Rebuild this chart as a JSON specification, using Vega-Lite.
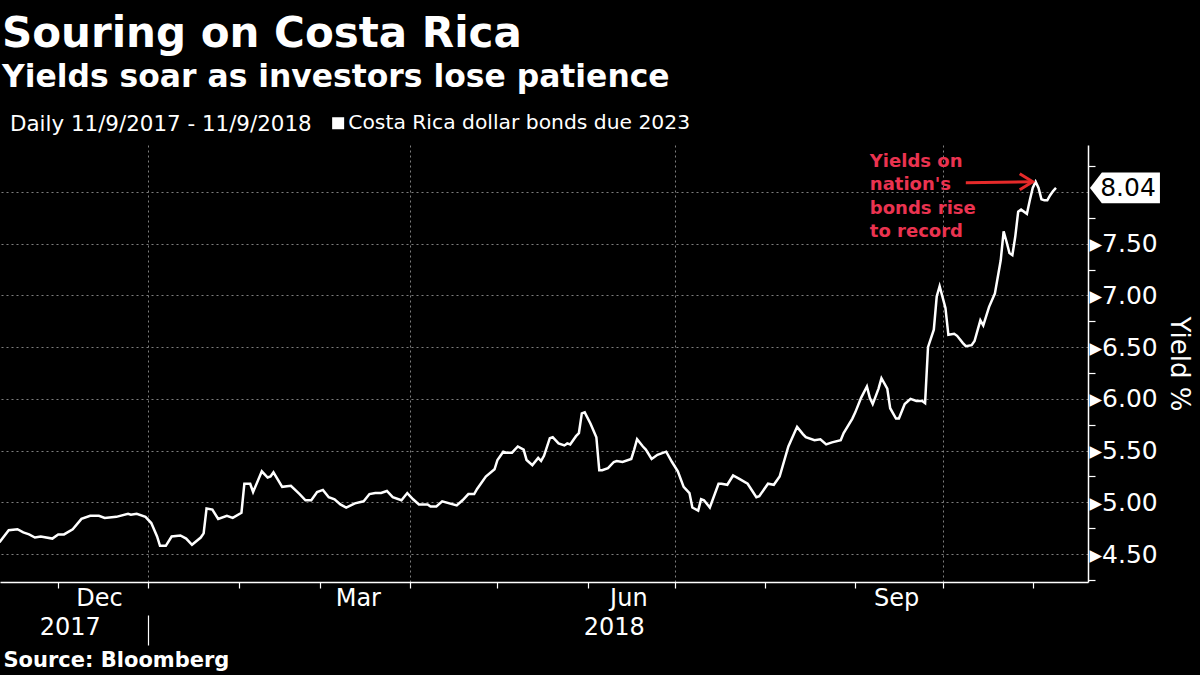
{
  "$schema": "https://vega.github.io/schema/vega-lite/v6.json",
  "width": 1088,
  "height": 437,
  "autosize": {"type": "none"},
  "padding": {"left": 0, "top": 145, "right": 112, "bottom": 93},
  "background": "#000000",
  "config": {"view": {"stroke": null}, "font": "DejaVu Sans"},
  "title": {
    "text": "Souring on Costa Rica",
    "subtitle": "Yields soar as investors lose patience",
    "anchor": "start",
    "frame": "group",
    "font": "DejaVu Sans",
    "fontSize": 42,
    "fontWeight": "bold",
    "color": "#ffffff",
    "subtitleFont": "DejaVu Sans",
    "subtitleFontSize": 31.4,
    "subtitleFontWeight": "bold",
    "subtitleColor": "#ffffff",
    "subtitlePadding": 6,
    "offset": 19,
    "dx": 2
  },
  "datasets": {
    "yields": [
      {"date": "2017-11-09", "yield": 4.61},
      {"date": "2017-11-11", "yield": 4.62},
      {"date": "2017-11-14", "yield": 4.73},
      {"date": "2017-11-17", "yield": 4.74},
      {"date": "2017-11-19", "yield": 4.71},
      {"date": "2017-11-21", "yield": 4.69},
      {"date": "2017-11-23", "yield": 4.66},
      {"date": "2017-11-25", "yield": 4.67},
      {"date": "2017-11-29", "yield": 4.65},
      {"date": "2017-12-01", "yield": 4.69},
      {"date": "2017-12-03", "yield": 4.69},
      {"date": "2017-12-06", "yield": 4.74},
      {"date": "2017-12-09", "yield": 4.84},
      {"date": "2017-12-12", "yield": 4.87},
      {"date": "2017-12-15", "yield": 4.87},
      {"date": "2017-12-17", "yield": 4.85},
      {"date": "2017-12-21", "yield": 4.86},
      {"date": "2017-12-25", "yield": 4.89},
      {"date": "2017-12-26", "yield": 4.88},
      {"date": "2017-12-28", "yield": 4.89},
      {"date": "2017-12-31", "yield": 4.86},
      {"date": "2018-01-02", "yield": 4.80},
      {"date": "2018-01-04", "yield": 4.67},
      {"date": "2018-01-05", "yield": 4.58},
      {"date": "2018-01-07", "yield": 4.58},
      {"date": "2018-01-09", "yield": 4.67},
      {"date": "2018-01-12", "yield": 4.68},
      {"date": "2018-01-14", "yield": 4.65},
      {"date": "2018-01-16", "yield": 4.59},
      {"date": "2018-01-19", "yield": 4.66},
      {"date": "2018-01-20", "yield": 4.70},
      {"date": "2018-01-21", "yield": 4.94},
      {"date": "2018-01-23", "yield": 4.93},
      {"date": "2018-01-25", "yield": 4.84},
      {"date": "2018-01-28", "yield": 4.87},
      {"date": "2018-01-30", "yield": 4.85},
      {"date": "2018-02-02", "yield": 4.90},
      {"date": "2018-02-03", "yield": 5.18},
      {"date": "2018-02-05", "yield": 5.18},
      {"date": "2018-02-06", "yield": 5.10},
      {"date": "2018-02-09", "yield": 5.30},
      {"date": "2018-02-11", "yield": 5.24},
      {"date": "2018-02-12", "yield": 5.25},
      {"date": "2018-02-13", "yield": 5.29},
      {"date": "2018-02-16", "yield": 5.15},
      {"date": "2018-02-19", "yield": 5.16},
      {"date": "2018-02-22", "yield": 5.08},
      {"date": "2018-02-24", "yield": 5.02},
      {"date": "2018-02-26", "yield": 5.02},
      {"date": "2018-02-28", "yield": 5.10},
      {"date": "2018-03-02", "yield": 5.12},
      {"date": "2018-03-04", "yield": 5.05},
      {"date": "2018-03-06", "yield": 5.03},
      {"date": "2018-03-08", "yield": 4.98},
      {"date": "2018-03-10", "yield": 4.95},
      {"date": "2018-03-13", "yield": 4.99},
      {"date": "2018-03-16", "yield": 5.01},
      {"date": "2018-03-18", "yield": 5.08},
      {"date": "2018-03-20", "yield": 5.09},
      {"date": "2018-03-22", "yield": 5.09},
      {"date": "2018-03-24", "yield": 5.11},
      {"date": "2018-03-26", "yield": 5.05},
      {"date": "2018-03-29", "yield": 5.02},
      {"date": "2018-03-31", "yield": 5.09},
      {"date": "2018-04-02", "yield": 5.03},
      {"date": "2018-04-04", "yield": 4.98},
      {"date": "2018-04-07", "yield": 4.98},
      {"date": "2018-04-08", "yield": 4.96},
      {"date": "2018-04-10", "yield": 4.96},
      {"date": "2018-04-12", "yield": 5.01},
      {"date": "2018-04-17", "yield": 4.97},
      {"date": "2018-04-19", "yield": 5.02},
      {"date": "2018-04-21", "yield": 5.08},
      {"date": "2018-04-23", "yield": 5.08},
      {"date": "2018-04-24", "yield": 5.13},
      {"date": "2018-04-27", "yield": 5.25},
      {"date": "2018-04-30", "yield": 5.32},
      {"date": "2018-05-01", "yield": 5.41},
      {"date": "2018-05-03", "yield": 5.49},
      {"date": "2018-05-04", "yield": 5.48},
      {"date": "2018-05-06", "yield": 5.48},
      {"date": "2018-05-08", "yield": 5.54},
      {"date": "2018-05-10", "yield": 5.51},
      {"date": "2018-05-11", "yield": 5.41},
      {"date": "2018-05-13", "yield": 5.36},
      {"date": "2018-05-15", "yield": 5.43},
      {"date": "2018-05-16", "yield": 5.40},
      {"date": "2018-05-17", "yield": 5.45},
      {"date": "2018-05-19", "yield": 5.62},
      {"date": "2018-05-20", "yield": 5.63},
      {"date": "2018-05-22", "yield": 5.57},
      {"date": "2018-05-24", "yield": 5.55},
      {"date": "2018-05-25", "yield": 5.57},
      {"date": "2018-05-26", "yield": 5.56},
      {"date": "2018-05-28", "yield": 5.64},
      {"date": "2018-05-29", "yield": 5.67},
      {"date": "2018-05-30", "yield": 5.86},
      {"date": "2018-05-31", "yield": 5.87},
      {"date": "2018-06-02", "yield": 5.76},
      {"date": "2018-06-04", "yield": 5.63},
      {"date": "2018-06-05", "yield": 5.31},
      {"date": "2018-06-06", "yield": 5.31},
      {"date": "2018-06-08", "yield": 5.33},
      {"date": "2018-06-10", "yield": 5.39},
      {"date": "2018-06-11", "yield": 5.40},
      {"date": "2018-06-13", "yield": 5.39},
      {"date": "2018-06-16", "yield": 5.42},
      {"date": "2018-06-17", "yield": 5.51},
      {"date": "2018-06-18", "yield": 5.61},
      {"date": "2018-06-20", "yield": 5.54},
      {"date": "2018-06-21", "yield": 5.51},
      {"date": "2018-06-23", "yield": 5.42},
      {"date": "2018-06-25", "yield": 5.46},
      {"date": "2018-06-28", "yield": 5.49},
      {"date": "2018-06-30", "yield": 5.39},
      {"date": "2018-07-02", "yield": 5.30},
      {"date": "2018-07-04", "yield": 5.15},
      {"date": "2018-07-06", "yield": 5.09},
      {"date": "2018-07-07", "yield": 4.95},
      {"date": "2018-07-09", "yield": 4.92},
      {"date": "2018-07-10", "yield": 5.03},
      {"date": "2018-07-11", "yield": 5.02},
      {"date": "2018-07-13", "yield": 4.95},
      {"date": "2018-07-16", "yield": 5.18},
      {"date": "2018-07-17", "yield": 5.18},
      {"date": "2018-07-19", "yield": 5.17},
      {"date": "2018-07-21", "yield": 5.26},
      {"date": "2018-07-23", "yield": 5.23},
      {"date": "2018-07-26", "yield": 5.18},
      {"date": "2018-07-29", "yield": 5.05},
      {"date": "2018-07-30", "yield": 5.06},
      {"date": "2018-08-02", "yield": 5.18},
      {"date": "2018-08-04", "yield": 5.17},
      {"date": "2018-08-06", "yield": 5.25},
      {"date": "2018-08-09", "yield": 5.54},
      {"date": "2018-08-12", "yield": 5.73},
      {"date": "2018-08-14", "yield": 5.66},
      {"date": "2018-08-15", "yield": 5.63},
      {"date": "2018-08-18", "yield": 5.60},
      {"date": "2018-08-20", "yield": 5.61},
      {"date": "2018-08-22", "yield": 5.56},
      {"date": "2018-08-24", "yield": 5.58},
      {"date": "2018-08-27", "yield": 5.60},
      {"date": "2018-08-28", "yield": 5.67},
      {"date": "2018-08-31", "yield": 5.81},
      {"date": "2018-09-01", "yield": 5.87},
      {"date": "2018-09-03", "yield": 6.01},
      {"date": "2018-09-05", "yield": 6.12},
      {"date": "2018-09-06", "yield": 6.01},
      {"date": "2018-09-07", "yield": 5.95},
      {"date": "2018-09-09", "yield": 6.10},
      {"date": "2018-09-10", "yield": 6.20},
      {"date": "2018-09-12", "yield": 6.10},
      {"date": "2018-09-13", "yield": 5.91},
      {"date": "2018-09-15", "yield": 5.81},
      {"date": "2018-09-16", "yield": 5.81},
      {"date": "2018-09-18", "yield": 5.95},
      {"date": "2018-09-20", "yield": 6.00},
      {"date": "2018-09-22", "yield": 5.98},
      {"date": "2018-09-24", "yield": 5.98},
      {"date": "2018-09-25", "yield": 5.96},
      {"date": "2018-09-26", "yield": 6.50},
      {"date": "2018-09-28", "yield": 6.67},
      {"date": "2018-09-29", "yield": 6.99},
      {"date": "2018-09-30", "yield": 7.09},
      {"date": "2018-10-02", "yield": 6.88},
      {"date": "2018-10-03", "yield": 6.62},
      {"date": "2018-10-05", "yield": 6.63},
      {"date": "2018-10-06", "yield": 6.61},
      {"date": "2018-10-08", "yield": 6.54},
      {"date": "2018-10-09", "yield": 6.51},
      {"date": "2018-10-11", "yield": 6.52},
      {"date": "2018-10-12", "yield": 6.56},
      {"date": "2018-10-14", "yield": 6.76},
      {"date": "2018-10-15", "yield": 6.71},
      {"date": "2018-10-17", "yield": 6.89},
      {"date": "2018-10-19", "yield": 7.02},
      {"date": "2018-10-21", "yield": 7.34},
      {"date": "2018-10-22", "yield": 7.62},
      {"date": "2018-10-23", "yield": 7.52},
      {"date": "2018-10-24", "yield": 7.41},
      {"date": "2018-10-25", "yield": 7.39},
      {"date": "2018-10-26", "yield": 7.57},
      {"date": "2018-10-27", "yield": 7.81},
      {"date": "2018-10-28", "yield": 7.83},
      {"date": "2018-10-30", "yield": 7.79},
      {"date": "2018-10-31", "yield": 7.92},
      {"date": "2018-11-01", "yield": 8.04},
      {"date": "2018-11-02", "yield": 8.10},
      {"date": "2018-11-03", "yield": 8.04},
      {"date": "2018-11-04", "yield": 7.93},
      {"date": "2018-11-05", "yield": 7.92},
      {"date": "2018-11-06", "yield": 7.92},
      {"date": "2018-11-07", "yield": 7.97},
      {"date": "2018-11-08", "yield": 8.01},
      {"date": "2018-11-09", "yield": 8.04}
    ],
    "latest": [{"date": "2018-11-09", "yield": 8.04}],
    "note": [{"date": "2018-09-06", "yield": 8.243, "note": "Yields on\nnation's\nbonds rise\nto record"}],
    "arrow": [{"date": "2018-10-09", "end": "2018-11-01", "yield": 8.09, "yield_end": 8.10}]
  },
  "resolve": {"axis": {"x": "independent", "y": "independent"}},
  "layer": [
    {
      "data": {"name": "yields"},
      "mark": {"type": "line", "strokeWidth": 2.5, "clip": true},
      "encoding": {
        "x": {
          "field": "date",
          "type": "temporal",
          "scale": {
            "type": "utc",
            "domain": [
              {"year": 2017, "month": 11, "date": 11, "utc": true},
              {"year": 2018, "month": 11, "date": 20, "utc": true}
            ]
          },
          "axis": {
            "orient": "bottom",
            "title": null,
            "labels": false,
            "values": [
              {"year": 2017, "month": 12, "date": 1, "utc": true},
              {"year": 2018, "month": 1, "date": 1, "utc": true},
              {"year": 2018, "month": 2, "date": 1, "utc": true},
              {"year": 2018, "month": 3, "date": 1, "utc": true},
              {"year": 2018, "month": 4, "date": 1, "utc": true},
              {"year": 2018, "month": 5, "date": 1, "utc": true},
              {"year": 2018, "month": 6, "date": 1, "utc": true},
              {"year": 2018, "month": 7, "date": 1, "utc": true},
              {"year": 2018, "month": 8, "date": 1, "utc": true},
              {"year": 2018, "month": 9, "date": 1, "utc": true},
              {"year": 2018, "month": 10, "date": 1, "utc": true},
              {"year": 2018, "month": 11, "date": 1, "utc": true}
            ],
            "grid": true,
            "gridColor": "#8c8c8c",
            "gridDash": [2, 3],
            "gridWidth": 1,
            "gridOpacity": {"condition": {"test": "utcmonth(datum.value) % 3 == 0", "value": 0.9}, "value": 0},
            "ticks": true,
            "tickColor": "#ffffff",
            "tickWidth": 1.2,
            "tickSize": {"condition": {"test": "utcmonth(datum.value) == 0", "value": 63}, "value": 6},
            "tickDash": {"condition": {"test": "utcmonth(datum.value) == 0", "value": [6, 27, 30, 40]}, "value": [10, 0]},
            "domainColor": "#ffffff",
            "domainWidth": 1.5
          }
        },
        "y": {
          "field": "yield",
          "type": "quantitative",
          "scale": {"domain": [4.23, 8.455], "nice": false, "zero": false},
          "axis": {
            "orient": "right",
            "values": [4.25, 4.5, 4.75, 5, 5.25, 5.5, 5.75, 6, 6.25, 6.5, 6.75, 7, 7.25, 7.5, 7.75, 8, 8.25],
            "labelExpr": "datum.value % 0.5 == 0 && datum.value != 8 ? '▸' + format(datum.value, '.2f') : ''",
            "labelColor": "#ffffff",
            "labelFont": "DejaVu Sans",
            "labelFontSize": 25,
            "labelPadding": -6,
            "labelOverlap": false,
            "labelFlush": false,
            "grid": true,
            "gridColor": "#8c8c8c",
            "gridDash": [2, 3],
            "gridWidth": 1,
            "gridOpacity": {"condition": {"test": "datum.value % 0.5 != 0", "value": 0}, "value": 0.9},
            "tickSize": 7,
            "tickColor": "#ffffff",
            "tickWidth": 1.2,
            "tickOpacity": {"condition": {"test": "datum.value % 0.5 == 0", "value": 0}, "value": 1},
            "domainColor": "#ffffff",
            "domainWidth": 1.5,
            "title": "Yield %",
            "titleColor": "#ffffff",
            "titleFont": "DejaVu Sans",
            "titleFontSize": 26,
            "titleFontWeight": "normal",
            "titlePadding": 8
          }
        },
        "color": {
          "datum": "Costa Rica dollar bonds due 2023",
          "type": "nominal",
          "scale": {"range": ["#ffffff"]},
          "legend": {
            "orient": "none",
            "legendX": 10,
            "legendY": -32,
            "direction": "horizontal",
            "title": "Daily 11/9/2017 - 11/9/2018",
            "titleOrient": "left",
            "titleLimit": 600,
            "titleColor": "#ffffff",
            "titleFont": "DejaVu Sans",
            "titleFontSize": 21.4,
            "titleFontWeight": "normal",
            "titlePadding": 16,
            "labelLimit": 600,
            "labelColor": "#ffffff",
            "labelFont": "DejaVu Sans",
            "labelFontSize": 20.3,
            "labelOffset": 0,
            "symbolType": "square",
            "symbolSize": 49,
            "symbolStrokeWidth": 5,
            "symbolStrokeColor": "#ffffff",
            "symbolFillColor": "#ffffff"
          }
        }
      }
    },
    {
      "data": {"name": "note"},
      "mark": {"type": "text", "align": "left", "baseline": "alphabetic", "lineBreak": "\n", "lineHeight": 23.5, "font": "DejaVu Sans", "fontSize": 18, "fontWeight": "bold", "color": "#ea3350"},
      "encoding": {
        "x": {
          "field": "date",
          "type": "temporal",
          "scale": {"type": "utc"},
          "axis": {
            "orient": "bottom",
            "title": null,
            "values": [
              {"year": 2017, "month": 12, "date": 15, "utc": true},
              {"year": 2018, "month": 3, "date": 14, "utc": true},
              {"year": 2018, "month": 6, "date": 15, "utc": true},
              {"year": 2018, "month": 9, "date": 15, "utc": true}
            ],
            "format": "%b",
            "domain": false,
            "ticks": false,
            "grid": false,
            "labelColor": "#ffffff",
            "labelFont": "DejaVu Sans",
            "labelFontSize": 24,
            "labelPadding": 4,
            "labelFlush": false,
            "labelOverlap": false
          }
        },
        "y": {"field": "yield", "type": "quantitative", "axis": null},
        "text": {"field": "note", "type": "nominal"}
      }
    },
    {
      "data": {"name": "arrow"},
      "mark": {"type": "rule", "color": "#e52a2a", "strokeWidth": 3},
      "encoding": {
        "x": {
          "field": "date",
          "type": "temporal",
          "scale": {"type": "utc"},
          "axis": {
            "orient": "bottom",
            "values": [
              {"year": 2017, "month": 12, "date": 5, "utc": true},
              {"year": 2018, "month": 6, "date": 10, "utc": true}
            ],
            "format": "%Y",
            "domain": false,
            "ticks": false,
            "grid": false,
            "labelColor": "#ffffff",
            "labelFont": "DejaVu Sans",
            "labelFontSize": 24,
            "labelPadding": 33,
            "labelFlush": false,
            "labelOverlap": false,
            "title": "Source: Bloomberg",
            "titleColor": "#ffffff",
            "titleFont": "DejaVu Sans",
            "titleFontSize": 21,
            "titleFontWeight": "bold",
            "titleAnchor": "start",
            "titleAlign": "left",
            "titleBaseline": "top",
            "titleX": 3,
            "titleY": 67
          }
        },
        "x2": {"field": "end"},
        "y": {"field": "yield", "type": "quantitative", "axis": null},
        "y2": {"field": "yield_end"}
      }
    },
    {
      "data": {"name": "arrow"},
      "mark": {"type": "point", "shape": "M-1,-0.62L0,0L-1,0.62", "size": 676, "filled": false, "stroke": "#e52a2a", "strokeWidth": 3, "opacity": 1},
      "encoding": {
        "x": {"field": "end", "type": "temporal", "scale": {"type": "utc"}, "axis": null},
        "y": {"field": "yield_end", "type": "quantitative", "axis": null}
      }
    },
    {
      "data": {"name": "latest"},
      "mark": {"type": "point", "shape": "M0.97,0L1.31,-0.44L2.97,-0.44L2.97,0.44L1.31,0.44Z", "size": 4900, "filled": true, "fill": "#ffffff", "opacity": 1, "strokeWidth": 0},
      "encoding": {
        "x": {"field": "date", "type": "temporal", "scale": {"type": "utc"}, "axis": null},
        "y": {"field": "yield", "type": "quantitative", "axis": null}
      }
    },
    {
      "data": {"name": "latest"},
      "mark": {"type": "text", "align": "center", "baseline": "middle", "dx": 72, "font": "DejaVu Sans", "fontSize": 25, "color": "#000000"},
      "encoding": {
        "x": {"field": "date", "type": "temporal", "scale": {"type": "utc"}, "axis": null},
        "y": {"field": "yield", "type": "quantitative", "axis": null},
        "text": {"field": "yield", "type": "quantitative", "format": ".2f"}
      }
    }
  ]
}
